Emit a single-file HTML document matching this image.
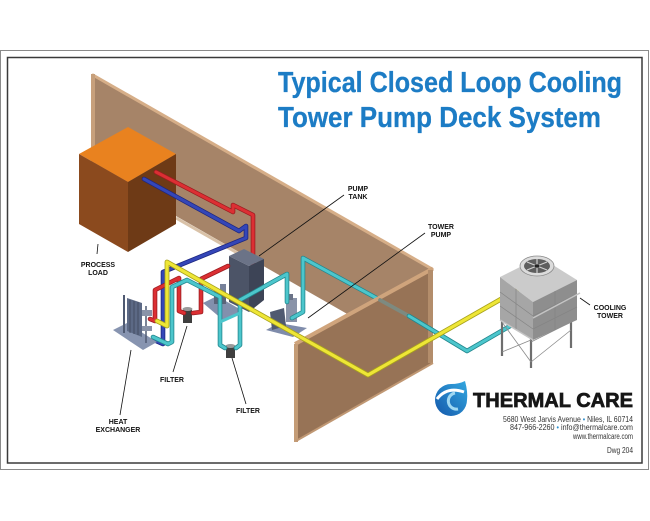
<!DOCTYPE html>
<html><head><meta charset="utf-8"><style>
html,body{margin:0;padding:0;background:#fff;}
svg{display:block;}
text{font-family:"Liberation Sans",sans-serif;}
</style></head><body>
<svg width="650" height="521" viewBox="0 0 650 521" xmlns="http://www.w3.org/2000/svg">
<defs>
<linearGradient id="dg" x1="1" y1="0" x2="0" y2="1">
<stop offset="0" stop-color="#34a8e0"/><stop offset="1" stop-color="#1458ab"/>
</linearGradient>
</defs>
<rect width="650" height="521" fill="#fff"/>
<rect x="0.5" y="50.5" width="648" height="419" fill="none" stroke="#8a8a8a" stroke-width="1"/>
<rect x="7.5" y="57.5" width="634.5" height="405.5" fill="none" stroke="#3a3a3a" stroke-width="1.5"/>

<!-- Title -->
<text x="278" y="92" font-size="29" font-weight="bold" fill="#1c7cc5" stroke="#1c7cc5" stroke-width="0.3" textLength="344" lengthAdjust="spacingAndGlyphs">Typical Closed Loop Cooling</text>
<text x="278" y="127" font-size="29" font-weight="bold" fill="#1c7cc5" stroke="#1c7cc5" stroke-width="0.3" textLength="323" lengthAdjust="spacingAndGlyphs">Tower Pump Deck System</text>

<!-- Back wall -->
<polygon points="92,75 433,270 433,363 92,168" fill="#a68468"/>
<line x1="92" y1="74.5" x2="433" y2="269.5" stroke="#d6ae88" stroke-width="3"/>
<rect x="91" y="74" width="4" height="94" fill="#c7a07c"/>
<line x1="176" y1="218" x2="262" y2="267" stroke="#d9c2a8" stroke-width="3"/>

<!-- Process load box -->
<polygon points="128,127 176,154 128,182 79,154" fill="#e9821f"/>
<polygon points="79,154 128,182 128,252 79,224" fill="#8b4a1e"/>
<polygon points="128,182 176,154 176,224 128,252" fill="#6e3a16"/>

<!-- Red/Blue from process load -->
<g fill="none" stroke-linejoin="round" stroke-linecap="round">
<polyline points="156,172 233,212 233,205 253,215 253,266" stroke="#9c1c20" stroke-width="4.6"/>
<polyline points="156,172 233,212 233,205 253,215 253,266" stroke="#dc2f33" stroke-width="3"/>
<polyline points="144,179 239,231 246,226 246,238 163,272 163,344 154,340" stroke="#1d2780" stroke-width="4.6"/>
<polyline points="144,179 239,231 246,226 246,238 163,272 163,344 154,340" stroke="#3446b8" stroke-width="3"/>
</g>

<!-- Tank base + tank -->
<polygon points="203,303 217,296 243,311 223,320" fill="#8290ad"/>
<rect x="214" y="290" width="12" height="14" fill="#5b6479"/>
<rect x="220" y="284" width="6" height="8" fill="#77819a"/>
<polygon points="229,256 244,249 264,259 249,266" fill="#6b7387"/>
<polygon points="229,256 249,266 249,312 229,302" fill="#4c5467"/>
<polygon points="249,266 264,259 264,300 249,312" fill="#3d4456"/>

<!-- Heat exchanger -->
<polygon points="113,330 127,323 157,342 143,350" fill="#8794b0"/>
<line x1="124" y1="295" x2="124" y2="333" stroke="#4f5a72" stroke-width="2"/>
<line x1="146" y1="306" x2="146" y2="343" stroke="#4f5a72" stroke-width="1.5"/>
<polygon points="127,298 142,303 142,337 127,331" fill="#5c6985"/>
<line x1="130" y1="300" x2="130" y2="333" stroke="#3e475c" stroke-width="0.8"/>
<line x1="134" y1="301" x2="134" y2="334" stroke="#3e475c" stroke-width="0.8"/>
<line x1="138" y1="302" x2="138" y2="335" stroke="#3e475c" stroke-width="0.8"/>
<rect x="142" y="310" width="10" height="6" fill="#8a93a8"/>
<rect x="142" y="326" width="10" height="5" fill="#8a93a8"/>

<!-- Filters -->
<rect x="183" y="309" width="9" height="14" fill="#3f3f3f"/>
<ellipse cx="187.5" cy="309" rx="5" ry="2" fill="#9a9a9a"/>
<rect x="226" y="346" width="9" height="12" fill="#3f3f3f"/>
<ellipse cx="230.5" cy="346" rx="5" ry="2" fill="#9a9a9a"/>

<!-- Tower pump -->
<polygon points="266,330 279,323 307,328 293,337" fill="#7f8cab"/>
<polygon points="270,312 284,308 286,326 272,330" fill="#505a70"/>
<rect x="286" y="298" width="11" height="24" fill="#8a93a8"/>
<rect x="289" y="294" width="4" height="6" fill="#6b7387"/>

<!-- Other pipes -->
<g fill="none" stroke-linejoin="round" stroke-linecap="round">
<polyline points="228,266 201,279 201,312 193,313" stroke="#9c1c20" stroke-width="4.6"/>
<polyline points="228,266 201,279 201,312 193,313" stroke="#dc2f33" stroke-width="3"/>
<polyline points="150,319 155,321 155,290 179,278 179,311 184,313" stroke="#9c1c20" stroke-width="4.6"/>
<polyline points="150,319 155,321 155,290 179,278 179,311 184,313" stroke="#dc2f33" stroke-width="3"/>
<polyline points="153,337 168,344 172,342 172,287 187,280 220,297 220,345 225,348" stroke="#22878e" stroke-width="4.6"/>
<polyline points="153,337 168,344 172,342 172,287 187,280 220,297 220,345 225,348" stroke="#4cc6cc" stroke-width="3"/>
<polyline points="236,348 240,345 240,300 287,274 287,302" stroke="#22878e" stroke-width="4.6"/>
<polyline points="236,348 240,345 240,300 287,274 287,302" stroke="#4cc6cc" stroke-width="3"/>
<polyline points="220,322 240,313" stroke="#4cc6cc" stroke-width="3"/>
<polyline points="292,318 303,312 303,258 380,300" stroke="#22878e" stroke-width="4.6"/>
<polyline points="292,318 303,312 303,258 380,300" stroke="#4cc6cc" stroke-width="3"/>
</g>

<!-- Side wall -->
<polygon points="296,345 433,270 433,363 296,441" fill="#977356"/>
<line x1="295" y1="344" x2="433" y2="268.5" stroke="#cfa47c" stroke-width="4"/>
<rect x="294" y="344" width="4" height="98" fill="#c49c76"/>
<rect x="428" y="270" width="5" height="93" fill="#b38d6b"/>
<line x1="296" y1="441" x2="433" y2="363" stroke="#c09874" stroke-width="2"/>

<g fill="none" stroke-linejoin="round" stroke-linecap="round">
<polyline points="380,300 409,316" stroke="#7d8a80" stroke-width="3.8"/>
<polyline points="409,316 467,351 517,322" stroke="#22878e" stroke-width="4.6"/>
<polyline points="409,316 467,351 517,322" stroke="#4cc6cc" stroke-width="3"/>
<polyline points="157,321 167,326 167,262 368,375 517,290" stroke="#a8a21c" stroke-width="4.8"/>
<polyline points="157,321 167,326 167,262 368,375 517,290" stroke="#eee636" stroke-width="3.2"/>
</g>

<!-- Cooling tower -->
<g stroke="#6e6e6e" stroke-width="2.2">
<line x1="502" y1="316" x2="502" y2="356"/>
<line x1="531" y1="336" x2="531" y2="368"/>
<line x1="571" y1="316" x2="571" y2="348"/>
<line x1="545" y1="300" x2="545" y2="330"/>
</g>
<g stroke="#8a8a8a" stroke-width="0.8">
<line x1="502" y1="322" x2="531" y2="362"/>
<line x1="531" y1="340" x2="502" y2="352"/>
<line x1="531" y1="342" x2="571" y2="322"/>
<line x1="531" y1="362" x2="571" y2="330"/>
</g>
<polygon points="500,277 540,257 577,280 533,302" fill="#cbcbcb"/>
<polygon points="500,277 533,302 533,340 500,320" fill="#a6a6a6"/>
<polygon points="533,302 577,280 577,320 533,340" fill="#8e8e8e"/>
<g stroke="#858585" stroke-width="0.7" fill="none">
<line x1="500" y1="292" x2="533" y2="316"/>
<line x1="500" y1="306" x2="533" y2="329"/>
<line x1="533" y1="316" x2="577" y2="294"/>
<line x1="533" y1="329" x2="577" y2="307"/>
<line x1="516" y1="289" x2="516" y2="330"/>
<line x1="555" y1="291" x2="555" y2="330"/>
</g>
<line x1="533" y1="318" x2="580" y2="293" stroke="#c4c4c4" stroke-width="1.5"/>
<line x1="500" y1="320" x2="533" y2="340" stroke="#c4c4c4" stroke-width="1.5"/>
<ellipse cx="537" cy="266" rx="17" ry="10" fill="#dcdcdc" stroke="#8a8a8a" stroke-width="0.8"/>
<ellipse cx="537" cy="266" rx="13" ry="7" fill="#5e5e5e"/>
<g stroke="#d0d0d0" stroke-width="1.2">
<line x1="527" y1="262" x2="547" y2="270"/>
<line x1="547" y1="262" x2="527" y2="270"/>
<line x1="537" y1="259" x2="537" y2="273"/>
</g>
<ellipse cx="537" cy="266" rx="2.5" ry="1.6" fill="#222"/>

<!-- Leader lines -->
<g stroke="#111" stroke-width="0.8">
<line x1="98" y1="244" x2="97" y2="254"/>
<line x1="344" y1="195" x2="259" y2="256"/>
<line x1="425" y1="233" x2="308" y2="318"/>
<line x1="580" y1="298" x2="590" y2="305"/>
<line x1="187" y1="326" x2="173" y2="372"/>
<line x1="232" y1="358" x2="246" y2="404"/>
<line x1="131" y1="350" x2="120" y2="415"/>
</g>

<!-- Labels -->
<g font-size="7" font-weight="bold" fill="#111" text-anchor="middle">
<text x="98" y="267">PROCESS</text>
<text x="98" y="275">LOAD</text>
<text x="358" y="191">PUMP</text>
<text x="358" y="199">TANK</text>
<text x="441" y="229">TOWER</text>
<text x="441" y="237">PUMP</text>
<text x="610" y="310">COOLING</text>
<text x="610" y="318">TOWER</text>
<text x="172" y="382">FILTER</text>
<text x="248" y="413">FILTER</text>
<text x="118" y="424">HEAT</text>
<text x="118" y="432">EXCHANGER</text>
</g>

<!-- Logo -->
<path d="M465,381 Q468,392 467,400 A16,16 0 1,1 451,384 Q459,384 465,381 Z" fill="url(#dg)"/>
<path d="M437,399 Q447,386 464,392" stroke="#ffffff" stroke-width="3" fill="none"/>
<path d="M455,393 A8,8 0 1,0 458,409" stroke="#9fd8f2" stroke-width="3" fill="none"/>
<text x="473" y="407" font-size="20" font-weight="bold" fill="#161616" stroke="#161616" stroke-width="0.7" textLength="160" lengthAdjust="spacingAndGlyphs">THERMAL CARE</text>

<g font-size="8" fill="#333" text-anchor="end">
<text x="633" y="422" textLength="130" lengthAdjust="spacingAndGlyphs">5680 West Jarvis Avenue <tspan fill="#2a8fd0">•</tspan> Niles, IL 60714</text>
<text x="633" y="430" textLength="123" lengthAdjust="spacingAndGlyphs">847-966-2260 <tspan fill="#2a8fd0">•</tspan> info@thermalcare.com</text>
<text x="633" y="439" textLength="60" lengthAdjust="spacingAndGlyphs">www.thermalcare.com</text>
<text x="633" y="453" textLength="26" lengthAdjust="spacingAndGlyphs">Dwg 204</text>
</g>
</svg>
</body></html>
